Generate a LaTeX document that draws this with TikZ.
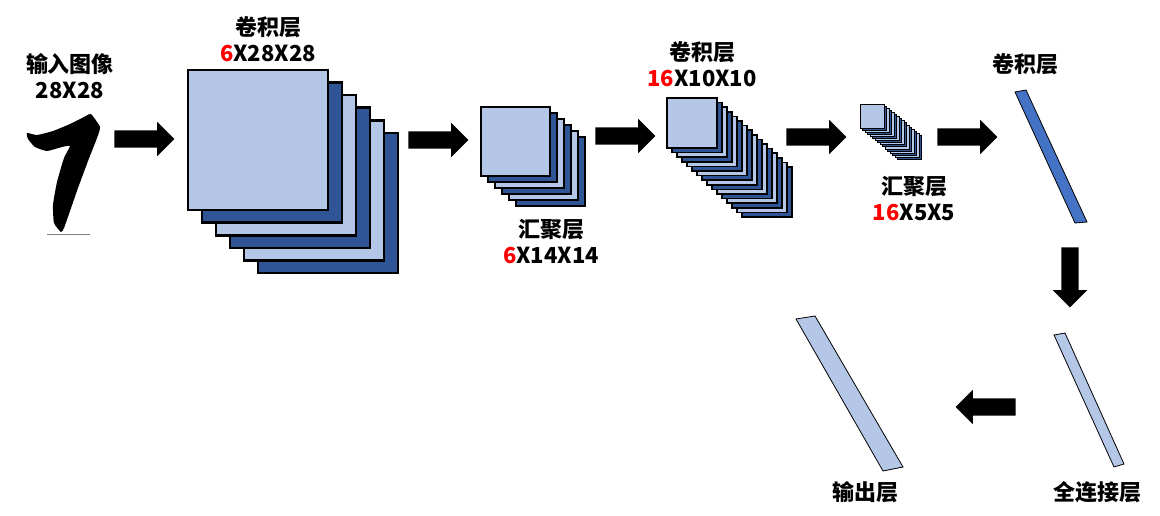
\documentclass[tikz,border=0pt]{standalone}
\usepackage{fontspec}
\setmainfont{Noto Sans CJK SC}
\usetikzlibrary{shapes.arrows}
\definecolor{maplight}{HTML}{B4C7E7}
\definecolor{mapdark}{HTML}{2F5597}
\definecolor{mapmid}{HTML}{4472C4}
\newcommand{\fmapstack}[7]{
\foreach \i in {#4,...,0}{
\ifodd\i \def\fc{mapdark}\else\def\fc{maplight}\fi
\filldraw[fill=\fc,line width=#7] ({#1+\i*#5},{#2+\i*#6}) rectangle ++(#3,#3);
}}
\begin{document}
\begin{tikzpicture}
[x=1pt,y=-1pt,
every node/.style={font=\fontsize{22}{26}\selectfont\bfseries,align=center,inner sep=0pt},
blockarrow/.style={single arrow,fill=black,draw=none,minimum height=60pt,text height=0pt,text depth=0pt,text width=0pt,inner sep=8.5pt,single arrow head extend=8.5pt},
bar/.style={draw=black,line width=.8pt}]
\useasboundingbox (0,0) rectangle (1160,516);
\fill[black] plot[smooth cycle,tension=.3] coordinates {(27,133) (37,135) (53,131) (70,124) (86,116) (91,114) (100,127) (97,138) (88,161) (78,188) (70,211) (64,228) (61,232) (54,223) (53,205) (57,182) (64,158) (70,146) (62,147) (47,151) (35,147) (28,139)};
\draw[gray,line width=1pt] (47,234) -- (90,234);
\node (input) at (70,76) {输入图像\\28X28};
\fmapstack{188}{70}{140}{5}{14}{12.6}{2.6pt}
\node (conv1) at (268,39) {卷积层\\{\color{red}6}X28X28};
\fmapstack{481}{107}{69}{5}{7}{6}{2.2pt}
\node (pool1) at (551,241.5) {汇聚层\\{\color{red}6}X14X14};
\fmapstack{667}{98}{50}{15}{5}{4.6}{1.5pt}
\node (conv2) at (702,64.5) {卷积层\\{\color{red}16}X10X10};
\fmapstack{860}{104}{24}{15}{2.5}{2.1}{.9pt}
\node (pool2) at (914,198.5) {汇聚层\\{\color{red}16}X5X5};
\filldraw[bar,fill=mapmid] (1015,92) -- (1026,90) -- (1087,222) -- (1075,223) -- cycle;
\node (conv3) at (1025,64) {卷积层};
\filldraw[bar,fill=maplight] (1054,335) -- (1065,333) -- (1124,464) -- (1114,467) -- cycle;
\node (fc) at (1097,492) {全连接层};
\filldraw[bar,fill=maplight] (796,319) -- (815,316) -- (903,467) -- (883,471) -- cycle;
\node (output) at (865,492) {输出层};
\node[blockarrow] (a1) at (140,139) {};
\node[blockarrow] (a2) at (434,140) {};
\node[blockarrow] (a3) at (621,136) {};
\node[blockarrow] (a4) at (812,137) {};
\node[blockarrow] (a5) at (963,137) {};
\node[blockarrow,shape border rotate=270] (a6) at (1070,273) {};
\node[blockarrow,shape border rotate=180] (a7) at (990,407) {};
\end{tikzpicture}
\end{document}
